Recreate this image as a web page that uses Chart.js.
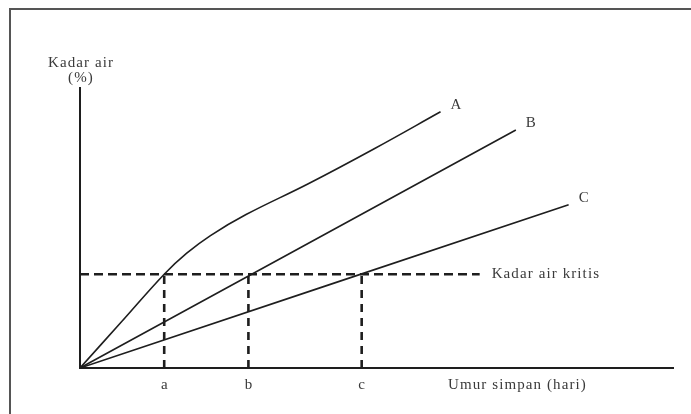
<!DOCTYPE html>
<html lang="id">
<head>
    <meta charset="utf-8">
    <title>Kadar air vs umur simpan</title>
    <script src="https://cdn.jsdelivr.net/npm/chart.js"></script>
    <style>
        body {
            margin: 0;
            background: #fff;
        }

        .frame {
            position: absolute;
            left: 9px;
            top: 8px;
            width: 700px;
            height: 420px;
            border-left: 2px solid #555;
            border-top: 2px solid #555;
        }

        .chart-box {
            position: absolute;
            left: 0;
            top: 0;
            width: 691px;
            height: 414px;
        }
    </style>
</head>
<body>
<div class="frame"></div>
<div class="chart-box">
    <canvas id="shelfChart"></canvas>
</div>

<script>
    // umur simpan (x) / kadar air (y), skala relatif 0-100
    const curveA = [[0, 0], [7, 16.5], [14.2, 33.5], [18, 41], [22, 47.3], [28, 54.8], [38.5, 65.8], [49.7, 78.4], [60.8, 91.5]];
    const curveB = [[0, 0], [73.5, 85]];
    const curveC = [[0, 0], [82.4, 58.3]];

    const kritis = 33.5;          // kadar air kritis
    const kritisEnd = 67.4;       // ujung garis putus-putus
    const tickValues = [14.2, 28.4, 47.5];
    const tickLabels = ['a', 'b', 'c'];
    const curveLabels = ['A', 'B', 'C'];

    const toPts = arr => arr.map(p => ({ x: p[0], y: p[1] }));
    const ink = '#1e1e1e';
    const serif = '"Liberation Serif", "Times New Roman", serif';

    const solid = (data) => ({
        data: toPts(data),
        showLine: true,
        borderColor: ink,
        borderWidth: 1.6,
        pointRadius: 0,
        tension: 0.4,
        fill: false
    });

    const dashed = (data, dash) => ({
        data: toPts(data),
        showLine: true,
        borderColor: ink,
        borderWidth: 2.6,
        borderDash: dash,
        pointRadius: 0,
        fill: false
    });

    const datasets = [
        dashed([[0, kritis], [kritisEnd, kritis]], [9, 5]),
        ...tickValues.map(v => dashed([[v, 0], [v, kritis]], [8, 6])),
        solid(curveA),
        solid(curveB),
        solid(curveC)
    ];

    // teks: judul sumbu, label kurva, label kadar air kritis
    const textPlugin = {
        id: 'texts',
        afterDatasetsDraw(chart) {
            const ctx = chart.ctx;
            const xs = chart.scales.x, ys = chart.scales.y;
            ctx.save();
            ctx.fillStyle = '#3a3a3a';
            ctx.font = '15px ' + serif;
            ctx.letterSpacing = '1.1px';
            ctx.textBaseline = 'middle';

            ctx.textAlign = 'center';
            ctx.fillText('Kadar air', xs.left + 1, 63);
            ctx.fillText('(%)', xs.left + 1, 78);

            ctx.textAlign = 'left';
            ctx.fillText('Kadar air kritis', xs.getPixelForValue(kritisEnd) + 12, ys.getPixelForValue(kritis));
            ctx.fillText('Umur simpan (hari)', 448, ys.bottom + 17);

            [curveA, curveB, curveC].forEach((c, i) => {
                const last = c[c.length - 1];
                ctx.fillText(curveLabels[i], xs.getPixelForValue(last[0]) + 10, ys.getPixelForValue(last[1]) - 7);
            });
            ctx.restore();
        }
    };

    new Chart(document.getElementById('shelfChart'), {
        type: 'scatter',
        data: { datasets: datasets },
        options: {
            responsive: true,
            maintainAspectRatio: false,
            animation: false,
            layout: {
                padding: { left: 80, top: 88, right: 18, bottom: 0 }
            },
            plugins: {
                legend: { display: false },
                tooltip: { enabled: false }
            },
            scales: {
                x: {
                    type: 'linear',
                    min: 0,
                    max: 100,
                    grid: { display: false, drawTicks: false },
                    border: { color: ink, width: 2 },
                    afterFit: s => { s.height = 46; },
                    afterBuildTicks: s => { s.ticks = tickValues.map(v => ({ value: v })); },
                    ticks: {
                        padding: 8,
                        color: '#3a3a3a',
                        font: { family: serif, size: 15 },
                        maxRotation: 0,
                        autoSkip: false,
                        callback: (v) => tickLabels[tickValues.indexOf(v)]
                    }
                },
                y: {
                    type: 'linear',
                    min: 0,
                    max: 100,
                    grid: { display: false, drawTicks: false },
                    border: { color: ink, width: 2 },
                    afterFit: s => { s.width = 0; },
                    ticks: { display: false }
                }
            }
        },
        plugins: [textPlugin]
    });
</script>
</body>
</html>
